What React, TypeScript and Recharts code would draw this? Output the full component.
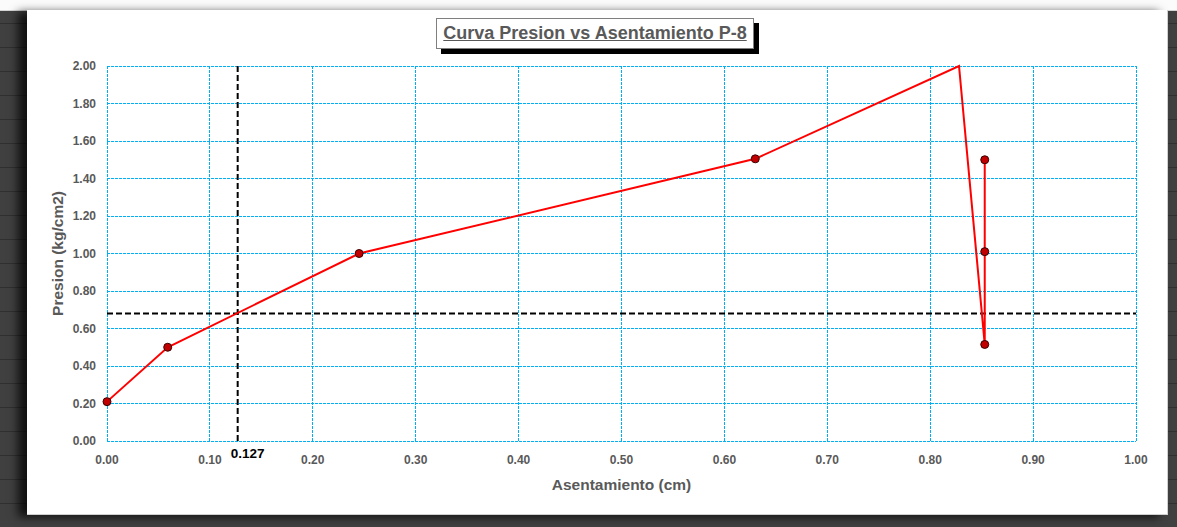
import React from 'react';
import { LineChart, Line, XAxis, YAxis, CartesianGrid, ReferenceLine } from 'recharts';

const asentamiento = [0.0, 0.059, 0.245, 0.63, 0.828, 0.853, 0.853, 0.853];
const presion = [0.21, 0.5, 1.0, 1.505, 2.0, 0.515, 1.01, 1.5];
const showMarker = [true, true, true, true, false, true, true, true];
const xTicks = [0, 0.1, 0.2, 0.3, 0.4, 0.5, 0.6, 0.7, 0.8, 0.9, 1.0];
const yTicks = [0, 0.2, 0.4, 0.6, 0.8, 1.0, 1.2, 1.4, 1.6, 1.8, 2.0];
const xDomain = [0, 1];
const yDomain = [0, 2];
const refX = 0.127;
const refY = 0.68;
const title = 'Curva Presion vs Asentamiento P-8';
const xTitle = 'Asentamiento (cm)';
const yTitle = 'Presion (kg/cm2)';

const data = asentamiento.map((x, i) => ({ x, y: presion[i], m: showMarker[i] }));

const FONT = '"Liberation Sans", Arial, sans-serif';

const Dot = (props: any) => {
  const { cx, cy, payload, index } = props;
  if (!payload || !payload.m) return <g key={`d${index}`} />;
  return <circle key={`d${index}`} cx={cx} cy={cy} r={4} fill="#c00000" stroke="#3a0000" strokeWidth={1} />;
};

const crisp = (v: number) => Math.floor(v) + 0.5;

export default function App() {
  return (
    <div
      style={{
        position: 'absolute',
        left: 0,
        top: 0,
        width: 1177,
        height: 527,
        overflow: 'hidden',
        background: '#404040',
        backgroundImage:
          'repeating-linear-gradient(to bottom, transparent 0px, transparent 23px, #303030 23px, #303030 24px)',
        fontFamily: FONT,
      }}
    >
      <div style={{ position: 'absolute', left: 0, top: 0, width: 1177, height: 10, background: '#fbfbfb', borderBottom: '1px solid #d4d4d4' }} />
      <div
        style={{
          position: 'absolute',
          left: 27,
          top: 10,
          width: 1140,
          height: 504,
          background: '#ffffff',
          boxShadow: '-9px 2px 9px rgba(0,0,0,0.75)',
          borderRight: '1px solid #d0d0d0',
          borderBottom: '1px solid #d0d0d0',
        }}
      >
        <LineChart
          width={1140}
          height={505}
          data={data}
          margin={{ top: 56, right: 31, left: 40, bottom: 34 }}
        >
          <CartesianGrid
            stroke="#00b0f0"
            strokeDasharray="3 1"
            strokeWidth={1}
            horizontalCoordinatesGenerator={(p: any) =>
              yTicks.map((v) => crisp(p.offset.top + p.offset.height * (1 - (v - yDomain[0]) / (yDomain[1] - yDomain[0]))))
            }
            verticalCoordinatesGenerator={(p: any) =>
              xTicks.map((v) => crisp(p.offset.left + p.offset.width * ((v - xDomain[0]) / (xDomain[1] - xDomain[0]))))
            }
          />
          <XAxis
            type="number"
            dataKey="x"
            domain={xDomain}
            ticks={xTicks}
            tickFormatter={(v: number) => v.toFixed(2)}
            axisLine={false}
            tickLine={false}
            tickSize={6}
            tickMargin={8}
            height={40}
            tick={{ fill: '#595959', fontSize: 12, fontWeight: 'bold', fontFamily: FONT }}
            label={{
              content: (p: any) => {
                const vb = p.viewBox || { x: 80, y: 431, width: 1029, height: 40 };
                return (
                  <text
                    x={vb.x + vb.width / 2}
                    y={479.5}
                    textAnchor="middle"
                    fill="#595959"
                    fontSize={15.5}
                    fontWeight="bold"
                    fontFamily={FONT}
                  >
                    {xTitle}
                  </text>
                );
              },
            }}
          />
          <YAxis
            type="number"
            domain={yDomain}
            ticks={yTicks}
            tickFormatter={(v: number) => v.toFixed(2)}
            axisLine={false}
            tickLine={false}
            tickSize={6}
            tickMargin={5}
            width={40}
            tick={{ fill: '#595959', fontSize: 12, fontWeight: 'bold', fontFamily: FONT }}
            label={{
              content: () => (
                <text
                  x={30.5}
                  y={243.5}
                  transform="rotate(-90 30.5 243.5)"
                  dy={5.5}
                  textAnchor="middle"
                  fill="#595959"
                  fontSize={15.5}
                  fontWeight="bold"
                  fontFamily={FONT}
                >
                  {yTitle}
                </text>
              ),
            }}
          />
          <ReferenceLine
            x={refX}
            stroke="#000000"
            strokeWidth={2}
            strokeDasharray="6 3"
            label={{
              content: (p: any) => {
                const vb = p.viewBox || { x: 210, y: 56, width: 0, height: 375 };
                return (
                  <text
                    x={vb.x + 10}
                    y={vb.y + vb.height + 17}
                    textAnchor="middle"
                    fill="#000000"
                    fontSize={13.5}
                    fontWeight="bold"
                    fontFamily={FONT}
                  >
                    {refX.toFixed(3)}
                  </text>
                );
              },
            }}
          />
          <ReferenceLine y={refY} stroke="#000000" strokeWidth={2} strokeDasharray="6 3" />
          <Line
            type="linear"
            dataKey="y"
            stroke="#ff0000"
            strokeWidth={2}
            dot={<Dot />}
            activeDot={false}
            isAnimationActive={false}
          />
        </LineChart>
      </div>
      <div
        style={{
          position: 'absolute',
          left: 436,
          top: 18,
          width: 316,
          height: 29,
          background: '#ffffff',
          border: '1px solid #7f7f7f',
          boxShadow: '5px 5px 0 #000000',
          color: '#595959',
          fontSize: 18,
          fontWeight: 'bold',
          textDecoration: 'underline',
          textAlign: 'center',
          lineHeight: '29px',
          whiteSpace: 'nowrap',
          fontFamily: FONT,
        }}
      >
        {title}
      </div>
    </div>
  );
}
